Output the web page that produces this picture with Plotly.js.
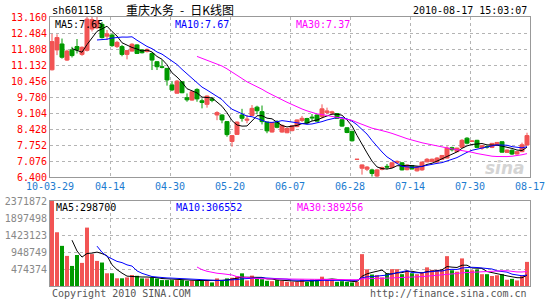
<!DOCTYPE html>
<html><head><meta charset="utf-8">
<script src="https://cdn.plot.ly/plotly-3.0.1.min.js"></script>
<style>html,body{margin:0;padding:0;background:#fff;}</style>
</head><body>
<div id="chart" style="width:545px;height:300px;"></div>
<script>
// ---------- data ----------
const symbol = 'sh601158';
const chartTitle = '重庆水务 - 日K线图';
const stamp = '2010-08-17 15:03:07';
const dateTicks = ['10-03-29','04-14','04-30','05-20','06-07','06-28','07-14','07-30','08-17'];
const priceTicks = [6.400,7.076,7.752,8.428,9.104,9.780,10.456,11.132,11.808,12.484,13.160];
const volTicks = [474374,948749,1423123,1897498,2371872];
const priceMaLabels = ['MA5:7.65','MA10:7.67','MA30:7.37'];
const volMaLabels = ['MA5:298700','MA10:306552','MA30:389256'];

const open = [10.93,11.77,12.02,11.34,11.77,11.91,11.58,11.75,12.65,12.70,
12.85,12.35,12.40,11.91,11.91,11.58,11.72,11.98,11.77,11.70,
11.62,11.27,11.06,10.99,10.29,9.94,10.42,9.75,9.65,10.10,
9.62,9.47,9.70,9.02,9.02,8.74,7.90,8.20,9.02,8.80,
9.00,9.35,9.16,8.72,8.30,8.74,8.30,8.27,8.36,8.53,
8.79,8.87,8.93,9.02,8.95,9.13,9.10,9.08,8.82,8.48,
8.33,7.14,6.77,6.73,6.70,6.44,6.72,6.85,6.80,7.00,
7.00,6.71,6.88,6.66,6.70,7.04,7.05,7.03,7.15,7.20,
7.64,7.47,7.65,8.04,7.90,7.95,7.62,7.69,7.65,7.76,
7.89,7.44,7.53,7.37,7.47,7.75];
const close = [12.12,12.29,11.46,11.72,11.53,11.77,11.88,13.07,13.05,13.00,
12.29,12.45,11.95,12.09,11.58,11.74,12.01,11.62,11.65,11.79,
11.34,11.06,11.03,10.50,10.08,10.45,9.96,9.66,10.00,9.70,
9.55,9.82,9.64,9.12,8.81,8.19,8.15,8.72,8.88,8.84,
9.30,9.20,8.74,8.35,8.70,8.50,8.58,8.45,8.56,8.81,
8.88,8.68,8.90,8.76,9.28,9.19,9.15,8.88,8.55,8.28,
7.93,7.15,6.91,6.82,6.55,6.70,6.80,6.82,7.00,7.06,
6.70,6.90,6.74,6.83,7.03,7.15,7.15,7.20,7.31,7.62,
7.55,7.62,7.95,7.83,7.92,7.65,7.72,7.67,7.82,7.86,
7.45,7.54,7.37,7.47,7.76,8.15];
const high = [12.45,12.43,12.25,11.78,11.90,12.23,11.92,13.16,13.16,13.16,
12.95,12.61,12.45,12.15,11.98,11.77,12.05,12.01,11.80,11.83,
11.66,11.30,11.34,11.00,10.43,10.50,10.45,9.93,10.03,10.15,
9.72,9.85,9.78,9.18,9.05,8.75,8.17,8.75,9.28,9.02,
9.44,9.41,9.42,8.73,8.72,8.80,8.62,8.48,8.60,8.83,
8.98,8.90,9.06,9.04,9.47,9.33,9.20,9.10,8.84,8.50,
8.35,7.15,6.93,6.86,6.75,6.74,6.84,6.95,7.02,7.10,
7.02,6.92,6.90,6.85,7.05,7.20,7.18,7.24,7.33,7.70,
7.68,7.64,8.00,8.08,7.95,7.97,7.74,7.74,7.84,7.88,
7.90,7.56,7.57,7.49,7.85,8.27];
const low = [10.90,11.55,11.40,11.30,11.45,11.62,11.52,11.70,12.55,12.65,
12.25,12.19,11.90,11.85,11.50,11.37,11.70,11.60,11.62,11.66,
10.92,10.92,10.99,10.26,10.03,9.92,9.94,9.58,9.62,9.58,
9.30,9.33,9.56,8.80,8.67,8.10,7.68,8.18,8.74,8.67,
8.97,9.05,8.62,8.25,8.28,8.46,8.27,8.25,8.33,8.50,
8.72,8.64,8.77,8.74,8.88,9.05,9.02,8.85,8.52,8.25,
7.90,7.14,6.50,6.65,6.42,6.40,6.68,6.72,6.78,6.98,
6.68,6.68,6.72,6.63,6.66,7.02,7.03,7.01,7.13,7.18,
7.48,7.45,7.63,7.78,7.88,7.62,7.55,7.60,7.62,7.74,
7.43,7.42,7.33,7.35,7.45,7.73];
const volume = [2371872,1500000,1120000,840000,560000,865000,645000,1630000,890000,700000,
655000,355000,355000,215000,215000,240000,305000,285000,212000,212000,
240000,212000,165000,165000,165000,165000,165000,145000,155000,145000,
155000,155000,100000,212000,165000,212000,230000,270000,353000,155000,
290000,212000,190000,145000,135000,165000,145000,118000,118000,118000,
180000,118000,180000,180000,260000,180000,180000,118000,135000,118000,
100000,118000,889000,466000,320000,306000,240000,355000,470000,470000,
330000,430000,355000,330000,380000,520000,450000,450000,460000,833000,
440000,400000,770000,460000,440000,460000,330000,330000,280000,300000,
330000,175000,200000,155000,290000,673000];

// ---------- derived ----------
const idx = close.map((_, i) => i);
function ma(arr, n) {
  return arr.map((_, i) => i < n - 1 ? null : arr.slice(i - n + 1, i + 1).reduce((a, b) => a + b, 0) / n);
}
const RED = '#f25454', GREEN = '#009a00';
const volColors = close.map((c, i) => c >= open[i] ? RED : GREEN);

// ---------- layout helpers (pixels -> paper) ----------
const W = 545, H = 300, L = 50, R = 15, T = 17, B = 14;
const PW = W - L - R, PH = H - T - B;
const px = x => (x - L) / PW;
const py = y => (H - B - y) / PH;
const MONO = 'DejaVu Sans Mono, monospace';
const maColors = ['#000000', '#0000ff', '#ff00ff'];
const maX = [54, 174, 295];

const traces = [
  {type: 'candlestick', x: idx, open: open, high: high, low: low, close: close,
   xaxis: 'x', yaxis: 'y', whiskerwidth: 0, hoverinfo: 'skip',
   increasing: {line: {color: RED, width: 1}, fillcolor: RED},
   decreasing: {line: {color: GREEN, width: 1}, fillcolor: GREEN}},
  {type: 'scatter', mode: 'lines', x: idx, y: ma(close, 5), xaxis: 'x', yaxis: 'y', line: {color: maColors[0], width: 1}, hoverinfo: 'skip'},
  {type: 'scatter', mode: 'lines', x: idx, y: ma(close, 10), xaxis: 'x', yaxis: 'y', line: {color: maColors[1], width: 1}, hoverinfo: 'skip'},
  {type: 'scatter', mode: 'lines', x: idx, y: ma(close, 30), xaxis: 'x', yaxis: 'y', line: {color: maColors[2], width: 1}, hoverinfo: 'skip'},
  {type: 'bar', x: idx, y: volume, xaxis: 'x2', yaxis: 'y2', marker: {color: volColors, line: {width: 0}}, hoverinfo: 'skip'},
  {type: 'scatter', mode: 'lines', x: idx, y: ma(volume, 5), xaxis: 'x2', yaxis: 'y2', line: {color: maColors[0], width: 1}, hoverinfo: 'skip'},
  {type: 'scatter', mode: 'lines', x: idx, y: ma(volume, 10), xaxis: 'x2', yaxis: 'y2', line: {color: maColors[1], width: 1}, hoverinfo: 'skip'},
  {type: 'scatter', mode: 'lines', x: idx, y: ma(volume, 30), xaxis: 'x2', yaxis: 'y2', line: {color: maColors[2], width: 1}, hoverinfo: 'skip'}
];

const tickPos = dateTicks.map((_, k) => -0.4 + 12 * k);
const xr = [-0.401, 95.601];
const gridCommon = {showgrid: true, gridcolor: '#b4b4b4', griddash: 'dot', gridwidth: 1,
  showline: true, mirror: true, linecolor: '#999999', linewidth: 1, zeroline: false, ticks: '', fixedrange: true};

const annotations = [];
function ann(text, x, y, anchor, color, size, family, extra) {
  annotations.push(Object.assign({text: text, x: px(x), y: py(y), xref: 'paper', yref: 'paper',
    xanchor: anchor, yanchor: 'middle', showarrow: false,
    font: {family: family || MONO, size: size || 10, color: color || '#000'}}, extra || {}));
}
ann(symbol, 50, 10, 'left', '#000', 10.5);
ann(chartTitle.replace(' - ', '\u2002-\u2002'), 180, 9.5, 'center', '#000', 12, 'Noto Sans CJK SC, sans-serif', {borderpad: 0});
ann(stamp, 529, 10, 'right', '#000', 10);
priceMaLabels.forEach((t, k) => ann(t, maX[k], 24.5, 'left', maColors[k], 10, null, {borderpad: 0}));
volMaLabels.forEach((t, k) => ann(t, maX[k], 207, 'left', maColors[k], 10));
ann('Copyright 2010 SINA.COM', 50, 293, 'left', '#555', 10);
ann('http://finance.sina.com.cn', 529, 293, 'right', '#555', 10);
ann('<b><i>sina</i></b>', 505, 168, 'center', '#d4d4d4', 17, 'DejaVu Sans, sans-serif');

const layout = {
  width: W, height: H, margin: {l: L, r: R, t: T, b: B, pad: 0},
  paper_bgcolor: '#fff', plot_bgcolor: '#fff', showlegend: false,
  boxgap: 0.2, boxgroupgap: 0, bargap: 0.2, dragmode: false,
  xaxis: Object.assign({}, gridCommon, {range: xr, tickvals: tickPos, ticktext: dateTicks,
    ticklabeloverflow: 'allow',
    tickfont: {family: MONO, size: 10, color: '#1c7bd0'}, anchor: 'y', rangeslider: {visible: false}}),
  yaxis: Object.assign({}, gridCommon, {domain: [py(177), 1], range: [6.3999, 13.1601],
    tickvals: priceTicks, ticktext: priceTicks.map(v => v.toFixed(3)),
    tickfont: {family: MONO, size: 10, color: '#ff0000'}}),
  xaxis2: Object.assign({}, gridCommon, {range: xr, tickvals: tickPos, showticklabels: false, anchor: 'y2'}),
  yaxis2: Object.assign({}, gridCommon, {domain: [0, py(201)], range: [0, 2371873],
    tickvals: volTicks, ticktext: volTicks.map(String),
    tickfont: {family: MONO, size: 10, color: '#888888'}}),
  annotations: annotations
};

Plotly.newPlot('chart', traces, layout, {staticPlot: true, displayModeBar: false});
</script>
</body></html>
